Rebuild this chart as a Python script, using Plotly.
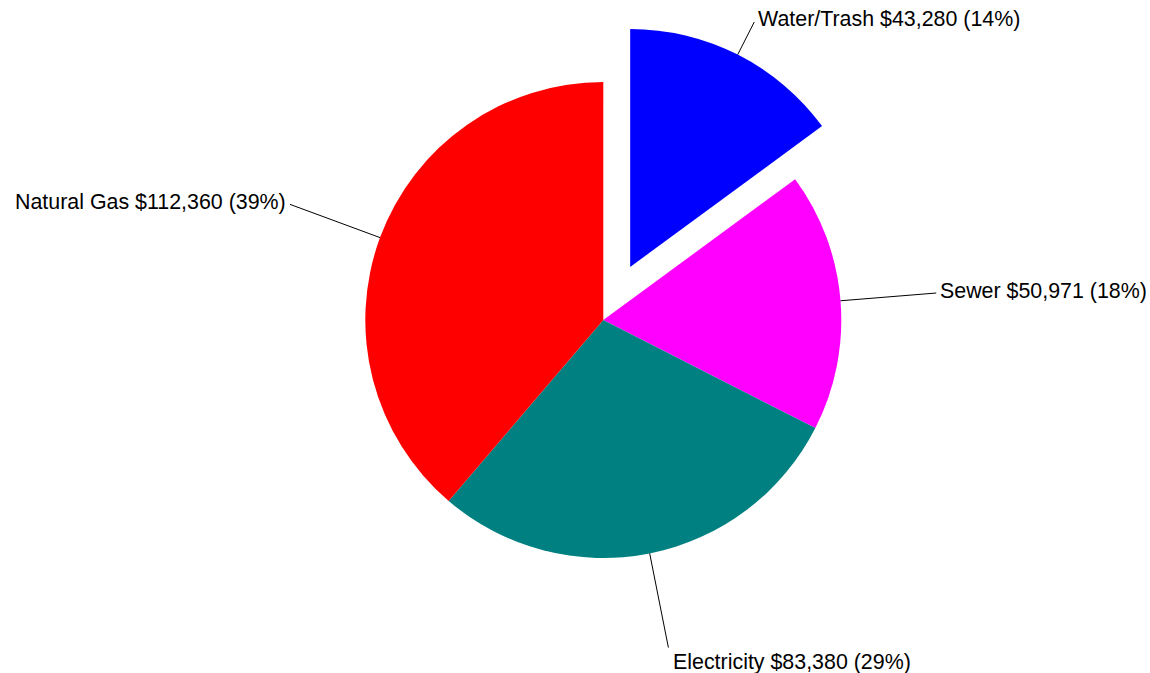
import math
import plotly.graph_objects as go

# ---- data ----
labels = ["Water/Trash", "Sewer", "Electricity", "Natural Gas"]
values = [43280, 50971, 83380, 112360]
percents = [14, 18, 29, 39]
colors = ["#0000FF", "#FF00FF", "#008080", "#FF0000"]
pulls = [0.25, 0, 0, 0]

# ---- layout geometry (pixels) ----
W, H = 1150, 673
CX, CY = 603.3, 320.0
BOX = 595.0  # pie box size in px
max_pull = max(pulls)
R = BOX / 2 / (1 + max_pull)

dom_x = [(CX - BOX / 2) / W, (CX + BOX / 2) / W]
dom_y = [1 - (CY + BOX / 2) / H, 1 - (CY - BOX / 2) / H]

fig = go.Figure(go.Pie(
    labels=labels, values=values, sort=False, direction="clockwise",
    rotation=0, pull=pulls, textinfo="none",
    marker=dict(colors=colors, line=dict(width=0)),
    domain=dict(x=dom_x, y=dom_y), showlegend=False,
))

def px2paper(x, y):
    return x / W, 1 - y / H

total = sum(values)
cum = 0
shapes, annos = [], []
LEAD = 96.0
TOP = 22.0
FONT = dict(family="Liberation Sans, Arial, sans-serif", size=21.4, color="#000000")
for lab, v, p, pl in zip(labels, values, percents, pulls):
    mid = (cum + v / 2) / total * 2 * math.pi
    cum += v
    dx, dy = math.sin(mid), -math.cos(mid)
    ox, oy = CX + pl * R * dx, CY + pl * R * dy
    sx, sy = ox + R * dx, oy + R * dy
    L = LEAD
    if dy < 0 and sy + L * dy < TOP:
        L = (sy - TOP) / -dy
    ex, ey = sx + L * dx, sy + L * dy
    x0, y0 = px2paper(sx, sy)
    x1, y1 = px2paper(ex, ey)
    shapes.append(dict(type="line", xref="paper", yref="paper", x0=x0, y0=y0, x1=x1, y1=y1,
                       line=dict(color="black", width=1)))
    xanchor = "left" if dx > 0 else "right"
    xshift = 2 if dx > 0 else -2
    if dy > 0.9:
        yanchor, yshift, xshift = "top", 0, 3
    elif dy < -0.9:
        yanchor, yshift = "bottom", 0
    else:
        yanchor, yshift = "middle", 2.5
    annos.append(dict(x=x1, y=y1, xref="paper", yref="paper", showarrow=False,
                      text=f"{lab} ${v:,} ({p}%)", xanchor=xanchor, yanchor=yanchor,
                      xshift=xshift, yshift=yshift, font=FONT))

fig.update_layout(width=W, height=H, margin=dict(l=0, r=0, t=0, b=0),
                  paper_bgcolor="white", plot_bgcolor="white",
                  shapes=shapes, annotations=annos)
fig.write_html("out.html", config={"displayModeBar": False},
               post_script="document.body.style.margin='0';document.body.style.padding='0';")
